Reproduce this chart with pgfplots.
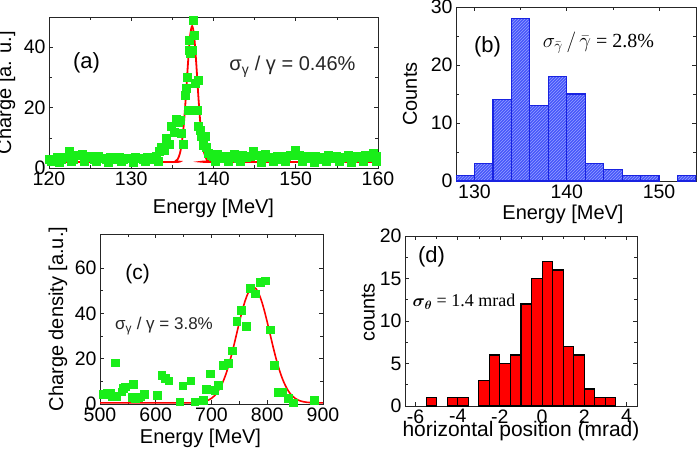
\documentclass[border=0pt]{standalone}
\usepackage{pgfplots}
\pgfplotsset{compat=1.18}
\usepackage{fontspec}
\setmainfont{Liberation Sans}
\newfontfamily\tnr{Liberation Serif}
\usetikzlibrary{patterns}
\definecolor{ptgreen}{RGB}{25,238,25}
\definecolor{barblue}{RGB}{70,85,250}
\definecolor{hatchblue}{RGB}{150,160,255}
\definecolor{edgeblue}{RGB}{25,35,225}
\pgfplotsset{
  every axis/.append style={
    scale only axis, anchor=south west,
    axis line style={black!85, line width=0.9pt},
    tick style={black!85, line width=0.6pt},
    tick align=inside, minor tick num=1,
    font=\fontsize{20}{23}\selectfont,
    tick label style={font=\fontsize{19.5}{22}\selectfont},
    label style={font=\fontsize{20}{23}\selectfont},
    /pgf/number format/assume math mode=true,
  },
}
\begin{document}
\begin{tikzpicture}[x=1pt,y=1pt]
\useasboundingbox (0,0) rectangle (697,448);
% ---------------- (a)
\begin{axis}[at={(49pt,280pt)}, width=329pt, height=151pt,
  xmin=120, xmax=160, ymin=0, ymax=50,
  xtick={120,130,140,150,160}, ytick={0,20,40},
  every axis x label/.style={at={([yshift=-40pt]axis description cs:0.5,0)}, anchor=center},
  every axis y label/.style={at={([xshift=-43pt]axis description cs:0,0.5)}, anchor=center, rotate=90},
  xlabel={Energy [MeV]}, ylabel={Charge [a. u.]}]
\addplot[only marks, mark=square*, mark size=4pt, color=ptgreen] coordinates {
(120,3.0) (120.5,2.5) (121,3.5) (121.5,3.0) (122,3.5) (122.4,5.4) (123,3.0) (123.5,4.2)
(124,4.5) (124.5,3.5) (125,3.8) (125.5,3.0) (126,4.0) (126.5,3.2) (127,3.0) (127.5,3.6)
(128,3.0) (128.5,3.5) (129,2.8) (129.5,3.4) (130,3.2) (130.5,3.6) (131,3.3) (131.5,2.9)
(132,3.5) (132.5,3.0) (133,3.8) (133.4,5.5) (133.7,7.0) (134,6.0) (134.3,9.8) (134.6,8.0)
(134.9,13.7) (135.2,12.0) (135.5,16.0) (135.7,15.3) (135.9,15.9) (136.1,11.5) (136.3,8.0)
(136.5,24.0) (136.7,26.4) (136.85,30.2) (136.95,19.2) (137.0,39.0) (137.1,42.4) (137.2,38.0)
(137.35,39.0) (137.5,49.0) (137.6,44.0) (137.8,28.0) (138.0,19.2) (138.15,29.0) (138.2,13.7)
(138.35,12.6) (138.5,10.4) (138.7,7.5) (138.95,10.4) (139.1,7.0) (139.4,5.0) (139.7,4.2)
(140,3.8) (140.5,4.5) (141,3.4) (141.5,4.0) (142,3.5) (142.5,4.5) (143,3.2) (143.5,4.2)
(144,3.5) (144.5,3.8) (144.8,5.6) (145.3,4.2) (145.8,3.4) (146.3,4.6) (146.8,3.6) (147.3,3.2)
(147.8,4.0) (148.3,3.0) (148.8,3.8) (149.3,4.4) (149.9,6.0) (150.4,4.2) (150.9,3.4) (151.4,4.0)
(151.9,3.2) (152.4,3.8) (152.9,3.0) (153.4,3.6) (153.9,4.2) (154.4,3.4) (154.9,4.0) (155.4,3.2)
(155.9,3.7) (156.4,4.4) (156.9,3.2) (157.4,3.8) (157.9,3.5) (158.4,4.2) (158.9,3.7) (159.4,4.8) (159.8,4.0)
(120.25,2.2) (121.25,2.0) (122.75,2.3) (124.25,2.1) (125.75,2.2) (127.25,2.0) (128.75,2.1)
(130.25,2.0) (131.75,2.2) (133.25,2.4) (140.25,2.2) (141.75,2.1) (143.25,2.3) (145.75,2.0)
(147.25,2.2) (148.75,2.1) (150.75,2.2) (152.25,2.0) (153.75,2.3) (155.25,2.1) (156.75,2.0) (158.25,2.2) (159.75,2.3)
};
\addplot[red, line width=1.8pt, smooth] coordinates {
(120,2) (134.9,2) (135.4,2.29) (135.65,2.95) (135.9,4.65) (136.15,8.3) (136.4,14.8)
(136.65,24.1) (136.9,34.8) (137.15,43.6) (137.4,47) (137.65,43.6) (137.9,34.8) (138.15,24.1)
(138.4,14.8) (138.65,8.3) (138.9,4.65) (139.15,2.95) (139.4,2.29) (139.9,2) (160,2)
};
\end{axis}
% ---------------- (b)
\begin{axis}[at={(456pt,267pt)}, width=240pt, height=174pt,
  xmin=128, xmax=154, ymin=0, ymax=30,
  xtick={130,140,150}, ytick={0,10,20,30},
  every axis x label/.style={at={([xshift=-13pt,yshift=-33pt]axis description cs:0.5,0)}, anchor=center},
  every axis y label/.style={at={([xshift=-46pt]axis description cs:0,0.5)}, anchor=center, rotate=90},
  xlabel={Energy [MeV]}, ylabel={Counts}]
\addplot[ybar interval, fill=barblue, draw=edgeblue, line width=1.3pt,
  postaction={pattern=north east lines, pattern color=hatchblue}] coordinates {
(128,1) (130,3) (132,14) (134,28) (136,13) (138,18) (140,15) (142,3) (144,2) (146,1) (148,1) (150,1)};
\addplot[ybar interval, fill=barblue, draw=edgeblue, line width=1.3pt,
  postaction={pattern=north east lines, pattern color=hatchblue}] coordinates {
(152,1) (154,1)};
\end{axis}
% ---------------- (c)
\begin{axis}[at={(100pt,44pt)}, width=223pt, height=170pt,
  xmin=500, xmax=900, ymin=0, ymax=75,
  xtick={500,600,700,800,900}, ytick={0,20,40,60},
  every axis x label/.style={at={([xshift=-11pt,yshift=-34.5pt]axis description cs:0.5,0)}, anchor=center},
  every axis y label/.style={at={([xshift=-42pt]axis description cs:0,0.5)}, anchor=center, rotate=90},
  xlabel={Energy [MeV]}, ylabel={Charge density [a.u.]}]
\addplot[only marks, mark=square*, mark size=3.8pt, color=ptgreen] coordinates {
(506,4.4) (512,4.7) (518,5.0) (521,3.2) (527,18.3) (529,3.5) (539,5.5) (542,6.9) (545,7.7)
(558,3.0) (560,8.8) (563,2.5) (568,3.0) (572,3.2) (579,4.4) (603,4.0) (611,12.8) (617,11.5)
(623,10.3) (643,1.0) (648,8.1) (663,10.2) (670,1.0) (685,1.8) (691,6.5) (698,13.3) (706,6.2)
(712,8.4) (721,17.0) (730,18.0) (737,23.6) (745,36.4) (753,41.3) (762,34.2) (769,51.2)
(778,48.7) (787,53.7) (796,54.4) (805,32.7) (812,17.0) (820,5.2) (828,5.2) (838,2.5)
(847,0.6) (884,1.8)
};
\addplot[red, line width=1.6pt, smooth] coordinates {
(500,0.5) (655,0.51) (675,0.66) (685,0.99) (690,1.30) (695,1.79) (700,2.51) (705,3.55)
(710,5.0) (715,6.95) (720,9.47) (725,12.6) (730,16.4) (735,20.8) (740,25.7) (745,30.9)
(750,36.1) (755,41.0) (760,45.3) (765,48.6) (770,50.77) (775,51.5) (780,50.77) (785,48.6)
(790,45.3) (795,41.0) (800,36.1) (805,30.9) (810,25.7) (815,20.8) (820,16.4) (825,12.6)
(830,9.47) (835,6.95) (840,5.0) (845,3.55) (850,2.51) (855,1.79) (860,1.30) (865,0.99)
(875,0.66) (895,0.51) (900,0.5)
};
\end{axis}
% ---------------- (d)
\begin{axis}[at={(405pt,42pt)}, width=232pt, height=170pt,
  xmin=-6.5, xmax=4.5, ymin=0, ymax=20,
  xtick={-6,-4,-2,0,2,4}, ytick={0,5,10,15,20},
  every axis x label/.style={at={([yshift=-25.5pt]axis description cs:0.5,0)}, anchor=center, font=\fontsize{21}{24}\selectfont},
  every axis y label/.style={at={([xshift=-36.7pt,yshift=8.5pt]axis description cs:0,0.5)}, anchor=center, rotate=90},
  xlabel={horizontal position (mrad)}, ylabel={counts}]
\addplot[ybar interval, fill=red, draw=black, line width=1.1pt] coordinates {(-5.5,1) (-5,1)};
\addplot[ybar interval, fill=red, draw=black, line width=1.1pt] coordinates {(-4.5,1) (-4,1) (-3.5,1)};
\addplot[ybar interval, fill=red, draw=black, line width=1.1pt] coordinates {
(-3,3) (-2.5,6) (-2,5) (-1.5,6) (-1,12) (-0.5,15) (0,17) (0.5,16) (1,7) (1.5,6) (2,2) (2.5,1) (3,1) (3.5,1)};
\end{axis}
% annotations
\node[font=\fontsize{22}{26}\selectfont] at (86.5,385) {(a)};
\node[font=\fontsize{20}{24}\selectfont, black!85] at (292.5,381.3) {σ\textsubscript{γ} / γ = 0.46\%};
\node[font=\fontsize{22}{26}\selectfont] at (487.5,401) {(b)};
\node[font=\fontsize{20}{24}\selectfont\tnr] at (598.5,405.3) {$\sigma_{\bar{\gamma}}\,/\,\bar{\gamma}$ = 2.8\%};
\node[font=\fontsize{21}{25}\selectfont] at (137.5,174) {(c)};
\node[font=\fontsize{17}{20}\selectfont, black!85] at (164,122) {σ\textsubscript{γ} / γ = 3.8\%};
\node[font=\fontsize{22}{26}\selectfont] at (431.5,191.3) {(d)};
\node[font=\fontsize{18}{22}\selectfont\tnr] at (464,146.3) {{\boldmath$\sigma_\theta$} = 1.4 mrad};
\end{tikzpicture}
\end{document}
